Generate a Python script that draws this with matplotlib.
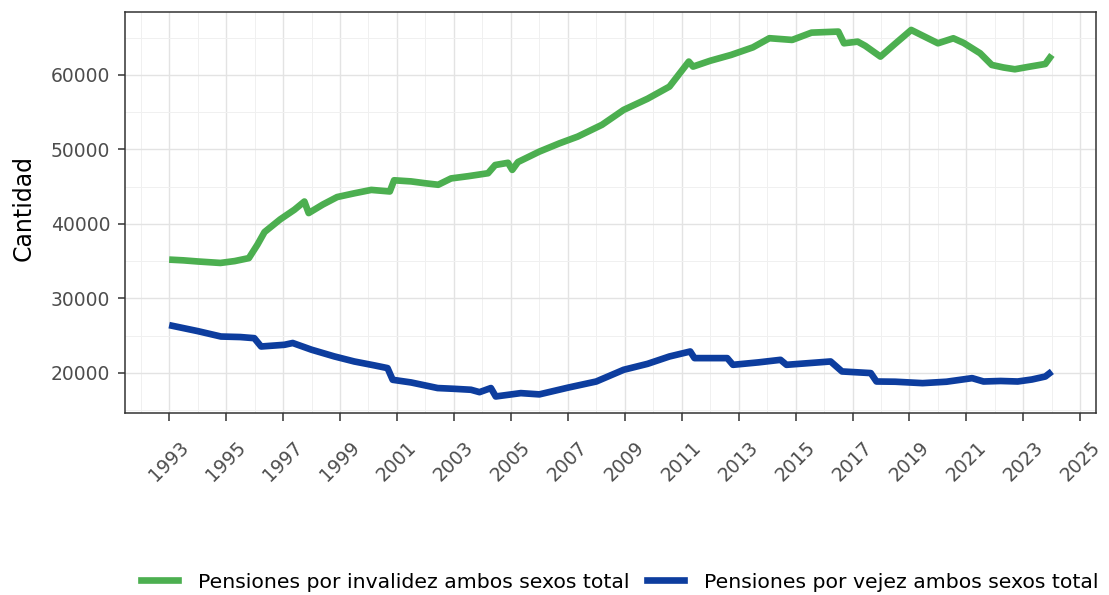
import matplotlib
matplotlib.use("Agg")
import matplotlib.pyplot as plt
from matplotlib.lines import Line2D

plt.rcParams['font.family'] = ['DejaVu Sans']

# Data (year as decimal, number of pensions)
inv_years = [1993.0, 1993.5, 1994.0, 1994.8, 1995.3, 1995.8, 1996.1, 1996.35, 1996.9,
             1997.4, 1997.75, 1997.9, 1998.4, 1998.9, 1999.5, 2000.1, 2000.75, 2000.9,
             2001.5, 2002.0, 2002.45, 2002.9, 2003.5, 2004.2, 2004.45, 2004.9, 2005.05,
             2005.25, 2006.0, 2006.7, 2007.35, 2008.2, 2008.96, 2009.8, 2010.57, 2011.25,
             2011.4, 2012.0, 2012.73, 2013.5, 2014.08, 2014.88, 2015.56, 2016.5, 2016.7,
             2017.18, 2017.45, 2017.98, 2018.5, 2019.06, 2019.5, 2020.0, 2020.54, 2020.9,
             2021.48, 2021.89, 2022.3, 2022.7, 2023.2, 2023.77, 2024.0]
inv_vals = [35200, 35100, 34950, 34750, 35000, 35400, 37200, 38900, 40600,
            41900, 43000, 41450, 42600, 43600, 44100, 44560, 44350, 45850,
            45700, 45450, 45250, 46100, 46400, 46800, 47900, 48200, 47250,
            48300, 49700, 50800, 51720, 53300, 55300, 56800, 58430, 61790,
            61120, 61900, 62680, 63700, 64930, 64700, 65680, 65820, 64250,
            64470, 63900, 62460, 64200, 66040, 65200, 64250, 64920, 64300,
            62910, 61340, 61000, 60760, 61100, 61470, 62680]

vej_years = [1993.0, 1993.5, 1994.0, 1994.82, 1995.5, 1995.99, 1996.23, 1997.05,
             1997.34, 1998.0, 1998.8, 1999.5, 2000.2, 2000.67, 2000.85, 2001.5,
             2002.43, 2003.0, 2003.6, 2003.9, 2004.3, 2004.47, 2005.35, 2006.0,
             2007.0, 2008.0, 2008.96, 2009.8, 2010.57, 2011.3, 2011.45, 2012.6,
             2012.8, 2013.7, 2014.47, 2014.68, 2016.23, 2016.63, 2017.64, 2017.84,
             2018.5, 2019.46, 2020.3, 2021.2, 2021.6, 2022.2, 2022.8, 2023.3,
             2023.77, 2024.0]
vej_vals = [26400, 26000, 25600, 24870, 24800, 24650, 23530, 23760,
            24000, 23100, 22200, 21520, 21000, 20630, 19060, 18700,
            17950, 17850, 17720, 17400, 17950, 16820, 17270, 17100,
            18000, 18830, 20400, 21200, 22190, 22860, 21970, 21970,
            21070, 21400, 21740, 21070, 21520, 20180, 19960, 18830,
            18800, 18610, 18800, 19280, 18830, 18900, 18830, 19100,
            19500, 20180]

series_labels = ["Pensiones por invalidez ambos sexos total",
                 "Pensiones por vejez ambos sexos total"]
series_colors = ["#4CAF50", "#0D3D9E"]

x_ticks = list(range(1993, 2026, 2))
y_ticks = [20000, 30000, 40000, 50000, 60000]

LW = 4.8

fig = plt.figure(figsize=(11.09, 5.95), dpi=100)
ax = fig.add_axes([125/1109, 1 - 413/595, (1096 - 125)/1109, (413 - 12)/595])

ax.plot(inv_years, inv_vals, color=series_colors[0], lw=LW, solid_capstyle='butt',
        solid_joinstyle='round', zorder=3)
ax.plot(vej_years, vej_vals, color=series_colors[1], lw=LW, solid_capstyle='butt',
        solid_joinstyle='round', zorder=3)

ax.set_xlim(1991.45, 2025.55)
ax.set_ylim(14600, 68450)

ax.set_xticks(x_ticks)
ax.set_xticklabels([str(t) for t in x_ticks], rotation=45, ha='center', va='top',
                   fontsize=13.5, color='#4D4D4D')
ax.set_xticks([t + 1 for t in x_ticks[:-1]] + [1992], minor=True)
ax.set_yticks(y_ticks)
ax.set_yticklabels([str(t) for t in y_ticks], fontsize=13.5, color='#4D4D4D')
ax.set_yticks([15000, 25000, 35000, 45000, 55000, 65000], minor=True)

ax.grid(True, which='major', color='#E3E3E3', lw=1.0, zorder=0)
ax.grid(True, which='minor', color='#F0F0F0', lw=0.7, zorder=0)
ax.set_axisbelow(True)

ax.tick_params(axis='x', which='major', length=5.8, width=1.1, color='#333333', pad=12)
ax.tick_params(axis='y', which='major', length=5.0, width=1.1, color='#333333', pad=5.5)
ax.tick_params(which='minor', length=0)
for s in ax.spines.values():
    s.set_color('#333333')
    s.set_linewidth(1.1)

ax.set_ylabel("Cantidad", fontsize=17, color='black')
ax.yaxis.set_label_coords((36 - 125) / 971, 0.51)

handles = [Line2D([0], [0], color=c, lw=LW) for c in series_colors]
fig.legend(handles, series_labels, loc='center', bbox_to_anchor=(620/1109, 1 - 582/595),
           ncol=2, frameon=False, fontsize=14.7, handlelength=1.8, handletextpad=1.0,
           columnspacing=0.85, borderaxespad=0, borderpad=0)

fig.savefig("out.png", dpi=100)
